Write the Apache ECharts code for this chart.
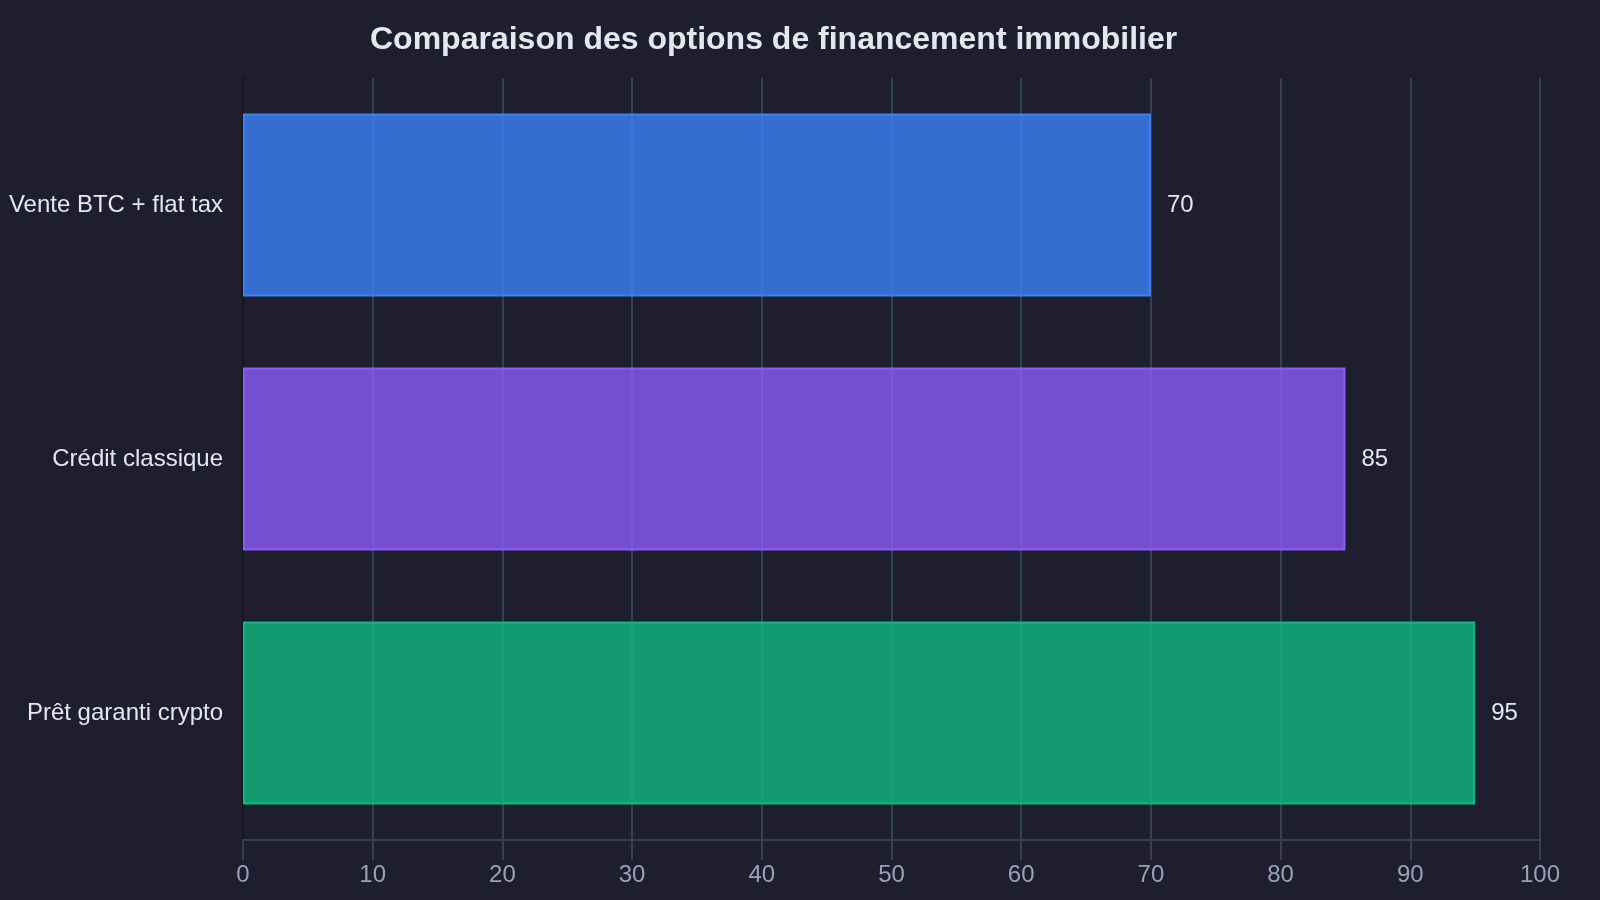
<!DOCTYPE html>
<html>
<head>
<meta charset="utf-8">
<title>Comparaison des options de financement immobilier</title>
<script src="https://cdn.jsdelivr.net/npm/echarts@6/dist/echarts.min.js"></script>
<style>
  html, body { margin: 0; padding: 0; background: #1e1e2e; }
  #chart { width: 1600px; height: 900px; }
</style>
</head>
<body>
<div id="chart"></div>
<script>
// données du graphique
const categories = ['Vente BTC + flat tax', 'Crédit classique', 'Prêt garanti crypto'];
const scores = [70, 85, 95];
const fillColors = ['rgba(59,130,246,0.8)', 'rgba(139,92,246,0.8)', 'rgba(16,185,129,0.8)'];
const borderColors = ['#3b82f6', '#8b5cf6', '#10b981'];
const xTicks = [0, 100, 10]; // min, max, intervalle

const font = '"Liberation Sans", Arial, sans-serif';

let myChart = echarts.init(document.getElementById('chart'), null, { renderer: 'canvas' });

let option = {
  backgroundColor: '#1e1e2e',
  animation: false,
  title: {
    text: 'Comparaison des options de financement immobilier',
    left: 370,
    top: 24,
    padding: 0,
    textStyle: { color: '#e2e8f0', fontSize: 32, fontWeight: 'bold', fontFamily: font }
  },
  grid: { left: 243, right: 60, top: 78, bottom: 60, containLabel: false },
  xAxis: {
    type: 'value',
    min: xTicks[0],
    max: xTicks[1],
    interval: xTicks[2],
    axisLine: { show: true, lineStyle: { color: '#334155', width: 2 } },
    axisTick: { show: true, length: 20, lineStyle: { color: '#334155', width: 2 } },
    splitLine: { show: true, lineStyle: { color: '#334155', width: 2 } },
    axisLabel: { color: '#94a3b8', fontSize: 24, fontFamily: font, margin: 23 }
  },
  yAxis: {
    type: 'category',
    inverse: true,
    data: categories,
    axisLine: { show: true, lineStyle: { color: '#16161f', width: 2 } },
    axisTick: { show: false },
    splitLine: { show: false },
    axisLabel: { color: '#e2e8f0', fontSize: 24, fontFamily: font, margin: 20 }
  },
  series: [{
    type: 'bar',
    barCategoryGap: '28%',
    data: scores.map((v, i) => ({
      value: v,
      itemStyle: { color: fillColors[i], borderColor: borderColors[i], borderWidth: 2 }
    })),
    label: {
      show: true,
      position: 'right',
      distance: 16,
      color: '#e2e8f0',
      fontSize: 24,
      fontFamily: font
    }
  }]
};

myChart.setOption(option);
</script>
</body>
</html>
